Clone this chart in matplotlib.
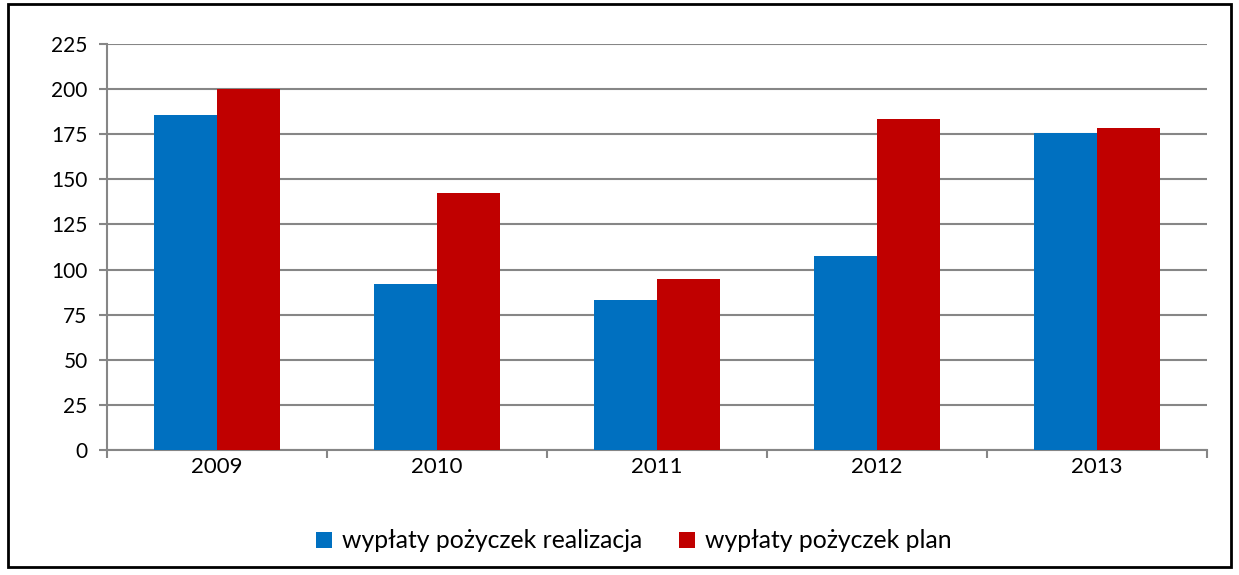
import matplotlib.pyplot as plt
import numpy as np
from matplotlib.patches import Rectangle

# Dane
years = ["2009", "2010", "2011", "2012", "2013"]
realizacja = [185.7, 92.0, 83.1, 107.5, 175.9]
plan = [200.0, 142.5, 94.6, 183.3, 178.3]
y_ticks = [0, 25, 50, 75, 100, 125, 150, 175, 200, 225]

plt.rcParams['font.family'] = ['Lato', 'DejaVu Sans']

W, H = 1239, 575
fig = plt.figure(figsize=(W / 100, H / 100), dpi=100)
ax = fig.add_axes([107 / W, 1 - 450 / H, 1100 / W, 406 / H])

x = np.arange(len(years))
bw = 0.286
ax.bar(x - bw / 2, realizacja, bw, color="#0070c0", label="wypłaty pożyczek realizacja", zorder=3)
ax.bar(x + bw / 2, plan, bw, color="#c00000", label="wypłaty pożyczek plan", zorder=3)

ax.set_xlim(-0.5, len(years) - 0.5)
ax.set_ylim(0, 225)
ax.set_yticks(y_ticks)
ax.set_yticklabels([str(v) for v in y_ticks], fontsize=15)
ax.yaxis.grid(True, color="#868686", linewidth=1.5, zorder=0)

ax.set_xticks(x)
ax.set_xticklabels(years, fontsize=16)
ax.tick_params(axis="x", which="major", length=0, pad=5)
ax.set_xticks(np.arange(len(years) + 1) - 0.5, minor=True)
ax.tick_params(axis="x", which="minor", length=6, color="#868686", width=1.5)
ax.tick_params(axis="y", length=6, color="#868686", width=1.5, pad=8)

for side in ["top", "right"]:
    ax.spines[side].set_visible(False)
for side in ["left", "bottom"]:
    ax.spines[side].set_color("#868686")
    ax.spines[side].set_linewidth(1.5)

fig.legend(loc="center", bbox_to_anchor=(634 / W, 1 - 541 / H), ncol=2, frameon=False,
           fontsize=17.8, handlelength=0.65, handleheight=0.65, handletextpad=0.4, columnspacing=1.5)

# Ramka wokół wykresu
fig.patches.append(Rectangle((8 / W, 8 / H), 1223 / W, 563 / H, transform=fig.transFigure,
                             fill=False, edgecolor="black", linewidth=2))

fig.savefig("out.png", dpi=100)
